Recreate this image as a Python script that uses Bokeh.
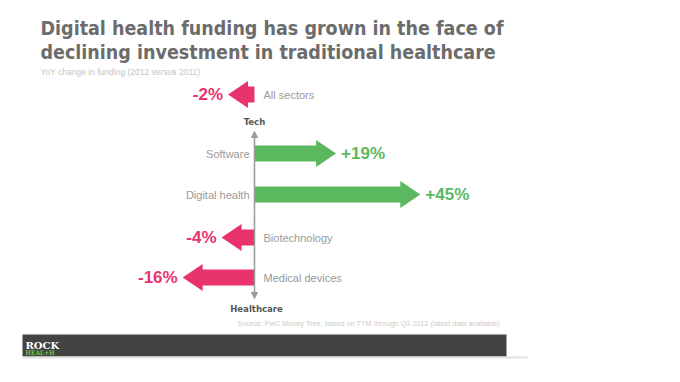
from bokeh.plotting import figure
from bokeh.models import Range1d, Arrow, NormalHead
from bokeh.core.properties import value
from bokeh.embed import file_html
from bokeh.resources import INLINE

# ---- data ----
categories = ["All sectors", "Software", "Digital health", "Biotechnology", "Medical devices"]
changes = [-2, 19, 45, -4, -16]
value_labels = ["-2%", "+19%", "+45%", "-4%", "-16%"]
title_lines = ["Digital health funding has grown in the face of",
               "declining investment in traditional healthcare"]
subtitle = "YoY change in funding (2012 versus 2011)"
source = "Source: PwC Money Tree; based on TTM through Q3 2012 (latest data available)"

# ---- layout ----
row_y = [94, 153, 194, 237, 277]   # screen-y centres of rows
K = 3.24                           # px per percentage point
X0 = 254                           # screen x of zero
W, H = 664, 366
GREEN = "#5cb85f"
PINK = "#e8336d"
COND = "'DejaVu Sans Condensed', 'DejaVu Sans', sans-serif"
SANS = "'Liberation Sans', Arial, sans-serif"


def px(sx):
    return (sx - X0) / K


p = figure(width=W, height=H, output_backend="svg", toolbar_location=None,
           x_range=Range1d(px(0), px(W)), y_range=Range1d(H, 0),
           min_border=0, outline_line_color=None)
p.axis.visible = False
p.grid.visible = False

# title & subtitle
p.text(x=[px(40), px(40)], y=[28, 52], text=title_lines, text_font=value(COND),
       text_font_style="bold", text_font_size="19.5px", text_color="#6c6c6c",
       text_baseline="alphabetic")
p.text(x=[px(40)], y=[71], text=[subtitle], text_font=value(SANS),
       text_font_size="8.5px", text_color="#c4c4c4", text_baseline="alphabetic")

# arrows
head = 20 / K
xs, ys, cols = [], [], []
for v, yc in zip(changes, row_y):
    s = 1 if v >= 0 else -1
    xs.append([0, v, v, v + s * head, v, v, 0])
    ys.append([yc - 8, yc - 8, yc - 13.5, yc, yc + 13.5, yc + 8, yc + 8])
    cols.append(GREEN if v >= 0 else PINK)
p.patches(xs, ys, fill_color=cols, line_color=None)

# value labels
for v, yc, lab in zip(changes, row_y, value_labels):
    s = 1 if v >= 0 else -1
    p.text(x=[v + s * (head + 5 / K)], y=[yc], text=[lab], text_font=value(SANS),
           text_font_style="bold", text_font_size="17px",
           text_color=GREEN if v >= 0 else PINK,
           text_align="left" if v >= 0 else "right", text_baseline="middle")

# category labels
for v, yc, cat in zip(changes, row_y, categories):
    if v >= 0:
        p.text(x=[px(249)], y=[yc], text=[cat], text_align="right")
    else:
        p.text(x=[px(263)], y=[yc], text=[cat], text_align="left")
for r in p.renderers[-len(categories):]:
    r.glyph.text_font = value(SANS)
    r.glyph.text_font_size = "11px"
    r.glyph.text_color = "#9a9a9a"
    r.glyph.text_baseline = "middle"

# vertical axis with arrowheads
p.add_layout(Arrow(x_start=0, y_start=213, x_end=0, y_end=131,
                   line_color="#999999", line_width=1.5,
                   end=NormalHead(size=6, fill_color="#999999", line_color="#999999")))
p.add_layout(Arrow(x_start=0, y_start=213, x_end=0, y_end=298,
                   line_color="#999999", line_width=1.5,
                   end=NormalHead(size=6, fill_color="#999999", line_color="#999999")))
p.text(x=[0, px(256)], y=[121, 308], text=["Tech", "Healthcare"], text_font=value(COND),
       text_font_style="bold", text_font_size="9.5px", text_color="#555555",
       text_align="center", text_baseline="middle")

# source
p.text(x=[px(237)], y=[323], text=[source], text_font=value(SANS),
       text_font_size="7.3px", text_color="#cccccc", text_baseline="middle")

# footer
p.quad(left=[px(22)], right=[px(506)], top=[334], bottom=[356],
       fill_color="#434343", line_color=None)
p.segment(x0=[px(22)], y0=[357], x1=[px(527)], y1=[357], line_color="#e2e2e2", line_width=2)
p.text(x=[px(25)], y=[344.5], text=["ROCK"], text_font=value("'DejaVu Serif', serif"),
       text_font_style="bold", text_font_size="10px", text_color="white",
       text_baseline="alphabetic")
p.text(x=[px(25)], y=[352], text=["HEAL+H"], text_font=value("'DejaVu Serif Condensed', 'DejaVu Serif', serif"),
       text_font_style="bold", text_font_size="6.5px", text_color="#6cc24a",
       text_baseline="alphabetic")

open("out.html", "w").write(file_html(p, INLINE))
